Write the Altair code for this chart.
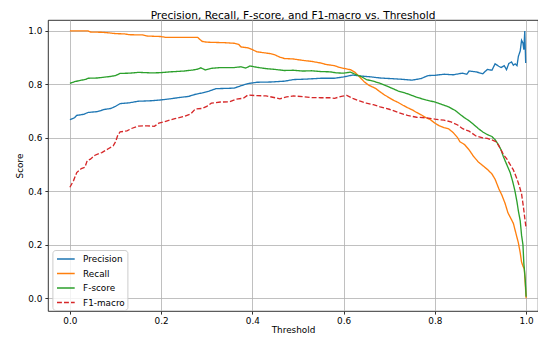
import altair as alt
import pandas as pd

# ---- data ----
prec_t = [0.0, 0.01, 0.015, 0.03, 0.04, 0.06, 0.075, 0.09, 0.1, 0.11, 0.13, 0.15, 0.18, 0.2,
          0.22, 0.24, 0.26, 0.275, 0.29, 0.305, 0.32, 0.34, 0.36, 0.375, 0.39, 0.41, 0.44,
          0.47, 0.49, 0.52, 0.55, 0.58, 0.6, 0.62, 0.64, 0.66, 0.68, 0.72, 0.75, 0.77, 0.785,
          0.8, 0.82, 0.84, 0.86, 0.87, 0.875, 0.89, 0.905, 0.915, 0.925, 0.932, 0.94, 0.945,
          0.952, 0.957, 0.962, 0.968, 0.972, 0.976, 0.98, 0.983, 0.987, 0.99, 0.993, 0.995,
          0.997, 0.999]
prec_v = [0.668, 0.675, 0.684, 0.688, 0.695, 0.698, 0.706, 0.71, 0.718, 0.728, 0.731, 0.737,
          0.739, 0.742, 0.746, 0.751, 0.755, 0.763, 0.768, 0.775, 0.784, 0.785, 0.786, 0.795,
          0.803, 0.808, 0.809, 0.812, 0.818, 0.82, 0.823, 0.823, 0.828, 0.835, 0.831, 0.828,
          0.824, 0.82, 0.816, 0.822, 0.833, 0.834, 0.838, 0.836, 0.842, 0.838, 0.85, 0.847,
          0.84, 0.856, 0.853, 0.877, 0.868, 0.863, 0.87, 0.855, 0.878, 0.884, 0.872, 0.877,
          0.87, 0.905, 0.925, 0.965, 0.955, 0.93, 1.0, 0.88]

rec_t = [0.0, 0.04, 0.045, 0.07, 0.085, 0.1, 0.12, 0.13, 0.16, 0.17, 0.2, 0.21, 0.28, 0.285,
         0.29, 0.3, 0.34, 0.36, 0.37, 0.375, 0.39, 0.4, 0.41, 0.44, 0.45, 0.46, 0.47, 0.49,
         0.51, 0.53, 0.55, 0.56, 0.58, 0.59, 0.6, 0.615, 0.625, 0.635, 0.645, 0.655, 0.67,
         0.68, 0.69, 0.7, 0.71, 0.72, 0.73, 0.74, 0.75, 0.76, 0.77, 0.78, 0.79, 0.8, 0.81,
         0.82, 0.83, 0.84, 0.85, 0.855, 0.865, 0.875, 0.885, 0.895, 0.905, 0.915, 0.925,
         0.932, 0.94, 0.947, 0.954, 0.96, 0.966, 0.972, 0.978, 0.983, 0.987, 0.99, 0.993,
         0.996, 1.0]
rec_v = [1.0, 1.0, 0.996, 0.995, 0.993, 0.99, 0.989, 0.986, 0.985, 0.981, 0.979, 0.976, 0.976,
         0.968, 0.961, 0.958, 0.956, 0.954, 0.95, 0.94, 0.937, 0.93, 0.922, 0.915, 0.91,
         0.902, 0.897, 0.895, 0.89, 0.886, 0.88, 0.875, 0.87, 0.864, 0.86, 0.855, 0.845,
         0.828, 0.81, 0.797, 0.785, 0.772, 0.76, 0.75, 0.74, 0.732, 0.722, 0.713, 0.705,
         0.695, 0.686, 0.676, 0.668, 0.655, 0.645, 0.638, 0.634, 0.62, 0.6, 0.585, 0.575,
         0.555, 0.53, 0.51, 0.496, 0.482, 0.465, 0.445, 0.41, 0.385, 0.354, 0.32, 0.3, 0.28,
         0.24, 0.207, 0.17, 0.135, 0.12, 0.11, 0.0]

fs_t = [0.0, 0.01, 0.02, 0.035, 0.04, 0.06, 0.075, 0.09, 0.1, 0.11, 0.13, 0.15, 0.18, 0.2,
        0.22, 0.25, 0.27, 0.28, 0.287, 0.297, 0.31, 0.33, 0.36, 0.375, 0.385, 0.395, 0.41,
        0.43, 0.45, 0.47, 0.49, 0.51, 0.53, 0.55, 0.57, 0.585, 0.6, 0.615, 0.625, 0.64, 0.65,
        0.665, 0.68, 0.7, 0.72, 0.74, 0.76, 0.78, 0.8, 0.81, 0.83, 0.845, 0.855, 0.865,
        0.875, 0.885, 0.895, 0.905, 0.915, 0.925, 0.932, 0.94, 0.945, 0.95, 0.955, 0.96,
        0.965, 0.97, 0.975, 0.98, 0.983, 0.987, 0.99, 0.993, 0.995, 0.998, 1.0]
fs_v = [0.804, 0.81, 0.814, 0.819, 0.823, 0.824, 0.827, 0.83, 0.833, 0.841, 0.842, 0.845,
        0.843, 0.844, 0.847, 0.85, 0.854, 0.857, 0.862, 0.854, 0.86, 0.863, 0.863, 0.866,
        0.861, 0.869, 0.864, 0.859, 0.856, 0.852, 0.853, 0.85, 0.851, 0.848, 0.847, 0.843,
        0.842, 0.846, 0.838, 0.828, 0.818, 0.812, 0.804, 0.79, 0.775, 0.765, 0.752, 0.742,
        0.734, 0.728, 0.716, 0.702, 0.688, 0.675, 0.664, 0.65, 0.635, 0.622, 0.612, 0.605,
        0.593, 0.572, 0.555, 0.53, 0.51, 0.49, 0.47, 0.44, 0.405, 0.36, 0.326, 0.29, 0.235,
        0.2, 0.13, 0.07, 0.005]

f1_t = [0.0, 0.008, 0.015, 0.025, 0.033, 0.038, 0.045, 0.055, 0.07, 0.085, 0.095, 0.1, 0.105,
        0.11, 0.125, 0.135, 0.15, 0.17, 0.185, 0.195, 0.21, 0.23, 0.25, 0.265, 0.275, 0.29,
        0.3, 0.31, 0.33, 0.35, 0.365, 0.38, 0.39, 0.41, 0.43, 0.45, 0.46, 0.475, 0.49, 0.51,
        0.53, 0.55, 0.57, 0.58, 0.595, 0.607, 0.62, 0.635, 0.65, 0.665, 0.68, 0.7, 0.72,
        0.74, 0.76, 0.78, 0.8, 0.82, 0.835, 0.85, 0.86, 0.875, 0.89, 0.905, 0.915, 0.925,
        0.935, 0.945, 0.95, 0.958, 0.965, 0.972, 0.98, 0.985, 0.99, 0.994, 0.997, 1.0]
f1_v = [0.415, 0.44, 0.47, 0.485, 0.49, 0.515, 0.52, 0.535, 0.545, 0.56, 0.57, 0.585, 0.61,
        0.622, 0.626, 0.635, 0.644, 0.645, 0.643, 0.655, 0.662, 0.672, 0.68, 0.69, 0.708,
        0.71, 0.718, 0.73, 0.734, 0.735, 0.745, 0.748, 0.76, 0.758, 0.757, 0.75, 0.746,
        0.753, 0.757, 0.754, 0.751, 0.75, 0.75, 0.748, 0.755, 0.759, 0.748, 0.738, 0.73,
        0.724, 0.716, 0.707, 0.695, 0.684, 0.677, 0.675, 0.67, 0.666, 0.66, 0.648, 0.635,
        0.625, 0.607, 0.6, 0.598, 0.592, 0.585, 0.555, 0.538, 0.52, 0.5, 0.48, 0.446, 0.42,
        0.39, 0.342, 0.3, 0.26]

metrics = ["Precision", "Recall", "F-score", "F1-macro"]
colors = ["#1f77b4", "#ff7f0e", "#2ca02c", "#d62728"]
dashes = [[1, 0], [1, 0], [1, 0], [4.9, 2.1]]
x_ticks = [0.0, 0.2, 0.4, 0.6, 0.8, 1.0]
y_ticks = [0.0, 0.2, 0.4, 0.6, 0.8, 1.0]

rows = []
for name, ts, vs in zip(metrics, [prec_t, rec_t, fs_t, f1_t], [prec_v, rec_v, fs_v, f1_v]):
    for t, v in zip(ts, vs):
        rows.append({"Threshold": t, "Score": v, "Metric": name})
df = pd.DataFrame(rows)

FONT = "DejaVu Sans"
LEG = dict(title=None, orient="none", legendX=4.4, legendY=230)

chart = alt.Chart(df).mark_line(strokeWidth=1.33).encode(
    x=alt.X("Threshold:Q",
            scale=alt.Scale(domain=[-0.048, 1.026], nice=False, zero=False),
            axis=alt.Axis(values=x_ticks, format=".1f", title="Threshold",
                          titlePadding=0, labelPadding=2.6)),
    y=alt.Y("Score:Q",
            scale=alt.Scale(domain=[-0.048, 1.041], nice=False, zero=False),
            axis=alt.Axis(values=y_ticks, format=".1f", title="Score",
                          titlePadding=3.5, labelPadding=3.1)),
    color=alt.Color("Metric:N", scale=alt.Scale(domain=metrics, range=colors),
                    legend=alt.Legend(**LEG)),
    strokeDash=alt.StrokeDash("Metric:N", scale=alt.Scale(domain=metrics, range=dashes),
                              legend=alt.Legend(**LEG)),
).properties(
    width=490,
    height=291,
    title=alt.Title("Precision, Recall, F-score, and F1-macro vs. Threshold",
                    font=FONT, fontSize=10.6, fontWeight="normal", color="black",
                    baseline="alphabetic", offset=2, dy=11.5),
    autosize=alt.AutoSizeParams(type="none"),
    padding={"left": 40, "top": 12, "right": 0, "bottom": 26},
).configure_view(
    stroke="#000000", strokeWidth=0.8
).configure_axis(
    labelFont=FONT, labelFontSize=8.85, labelColor="black",
    titleFont=FONT, titleFontSize=8.85, titleColor="black", titleFontWeight="normal",
    tickSize=3.1, tickColor="black", tickWidth=0.8,
    grid=True, gridColor="#b0b0b0", gridWidth=0.8, domain=False,
).configure_legend(
    labelFont=FONT, labelFontSize=8.85, labelColor="black",
    symbolType="M-0.8,0H2.42", symbolSize=121, symbolStrokeWidth=1.33,
    labelOffset=15.2, padding=2.5, rowPadding=2.5,
    fillColor="rgba(255,255,255,0.8)", strokeColor="#cccccc", cornerRadius=3,
)

chart.save("out.html", embed_options={"renderer": "svg", "actions": False})
